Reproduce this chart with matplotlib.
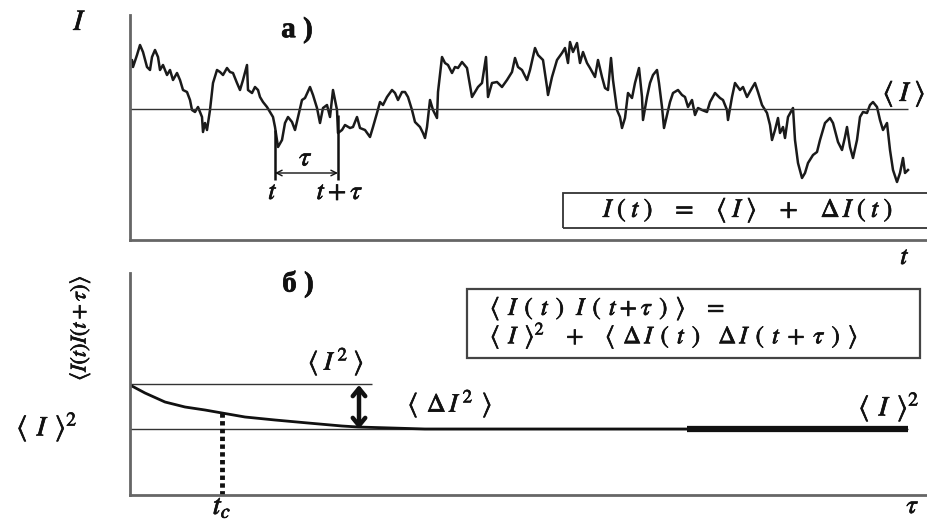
import numpy as np
import matplotlib
matplotlib.use("Agg")
import matplotlib.pyplot as plt
from matplotlib.patches import Rectangle
import matplotlib.patheffects as pe

plt.rcParams['mathtext.fontset'] = 'stix'
plt.rcParams['font.family'] = ['Liberation Serif', 'DejaVu Serif']

# a) fluctuating signal I(t)
t_vals = [0, 2, 3, 7, 10, 13, 17, 20, 22, 25,
          28, 30, 33, 37, 40, 43, 47, 50, 53, 57,
          60, 62, 65, 68, 72, 73, 75, 77, 80, 83,
          87, 90, 93, 97, 100, 103, 107, 110, 113, 117,
          118, 122, 125, 128, 130, 133, 137, 140, 143, 145,
          148, 152, 155, 158, 162, 165, 168, 172, 175, 180,
          183, 187, 190, 193, 197, 200, 203, 207, 208, 212,
          215, 220, 223, 227, 230, 235, 240, 243, 247, 250,
          253, 257, 262, 265, 268, 272, 275, 278, 282, 285,
          290, 293, 295, 297, 300, 303, 307, 308, 312, 315,
          318, 322, 325, 328, 332, 337, 342, 345, 348, 352,
          356, 358, 362, 367, 372, 377, 382, 385, 388, 392,
          397, 400, 405, 408, 413, 417, 418, 422, 427, 432,
          435, 438, 440, 443, 447, 450, 453, 457, 460, 465,
          468, 472, 475, 478, 481, 483, 487, 490, 492, 495,
          498, 502, 505, 509, 512, 513, 517, 520, 523, 527,
          529, 532, 534, 537, 540, 543, 548, 552, 555, 558,
          562, 565, 568, 572, 577, 580, 585, 590, 593, 597,
          598, 602, 605, 610, 613, 617, 622, 625, 628, 632,
          637, 640, 642, 645, 648, 650, 653, 655, 658, 663,
          665, 668, 672, 675, 678, 683, 687, 690, 695, 700,
          703, 708, 712, 715, 717, 720, 723, 727, 730, 733,
          737, 740, 743, 747, 750, 753, 757, 760, 763, 767,
          770, 773, 775, 778]
i_vals = [178, 180, 173, 185, 195, 188, 173, 170, 183, 190,
          183, 170, 175, 165, 170, 160, 167, 160, 150, 148,
          140, 130, 128, 133, 123, 108, 117, 110, 130, 157,
          170, 168, 165, 172, 168, 167, 157, 150, 160, 175,
          150, 147, 153, 150, 143, 138, 133, 128, 123, 113,
          93, 100, 117, 123, 118, 110, 123, 140, 142, 153,
          145, 132, 117, 132, 135, 123, 150, 130, 107, 110,
          115, 112, 113, 123, 112, 110, 103, 113, 127, 138,
          135, 143, 150, 147, 140, 148, 148, 143, 130, 118,
          113, 107, 102, 113, 140, 130, 122, 148, 183, 177,
          175, 167, 173, 172, 178, 172, 143, 148, 153, 157,
          183, 143, 157, 158, 153, 160, 168, 182, 173, 170,
          160, 170, 192, 185, 180, 153, 145, 163, 180, 187,
          192, 177, 198, 188, 197, 177, 188, 177, 172, 163,
          180, 163, 152, 150, 182, 160, 130, 123, 112, 122,
          147, 142, 157, 172, 143, 120, 143, 157, 165, 170,
          157, 133, 112, 125, 138, 147, 150, 145, 143, 133,
          140, 125, 132, 130, 128, 138, 147, 142, 140, 130,
          120, 143, 157, 150, 153, 143, 152, 157, 148, 135,
          127, 115, 100, 110, 122, 107, 113, 102, 123, 132,
          100, 77, 62, 67, 77, 85, 88, 100, 117, 122,
          117, 98, 90, 103, 113, 93, 82, 100, 123, 128,
          127, 135, 138, 133, 120, 110, 117, 90, 70, 58,
          67, 82, 67, 70]
i_mean = 131
t_mark = 145
t_tau = 208

# б) correlation function <I(t)I(t+tau)>
tau_vals = [0, 15, 35, 55, 75, 92, 115, 145, 178, 212, 228, 262, 295, 400, 557]
corr_vals = [110, 102, 93, 88, 85, 82, 78, 75, 72, 69, 68, 67, 66, 66, 66]
i_mean_sq = 66
i_sq_mean = 111
tau_c = 92

heavy = [pe.withStroke(linewidth=0.5, foreground='#111111')]
tx = dict(color='#111111', path_effects=heavy, ha='center', va='center')

fig = plt.figure(figsize=(9.27, 5.21), dpi=100)
ax1 = fig.add_axes([130 / 927, 1 - 240 / 521, 797 / 927, 225 / 521])
ax2 = fig.add_axes([130 / 927, 1 - 495 / 521, 797 / 927, 222 / 521])

for ax in (ax1, ax2):
    for s in ('top', 'right'):
        ax.spines[s].set_visible(False)
    for s in ('left', 'bottom'):
        ax.spines[s].set_color('#666666')
        ax.spines[s].set_linewidth(2)
    ax.set_xticks([])
    ax.set_yticks([])
    ax.set_xlim(0, 797)

# ---- panel a)
ax1.set_ylim(0, 225)
ax1.plot(t_vals, i_vals, color='#1a1a1a', lw=1.8)
ax1.hlines(i_mean, 0, 778, color='#333333', lw=1)
ax1.vlines(t_mark, 60, 110, color='#111111', lw=1.8)
ax1.vlines(t_tau, 60, 125, color='#111111', lw=1.8)
ax1.annotate('', xy=(t_mark, 67), xytext=(t_tau, 67),
             arrowprops=dict(arrowstyle='<->', lw=1, color='#111111', shrinkA=0, shrinkB=0))
ax1.text(176, 81, r'$\tau$', fontsize=20, **tx)
ax1.text(t_mark - 2, 47, r'$t$', fontsize=19, **tx)
ax1.text(t_tau + 2, 47, r'$t\:+\:\tau$', fontsize=19, **tx)
ax1.text(167, 210, 'а )', fontsize=21, fontweight='bold', **tx)
ax1.text(-50, 217, r'$I$', fontsize=21, clip_on=False, **tx)
ax1.text(774, 146, r'$\langle\; I\;\rangle$', fontsize=20, clip_on=False, **tx)
ax1.text(775, -18, r'$t$', fontsize=19, clip_on=False, **tx)
ax1.add_patch(Rectangle((433, 12), 400, 35, fill=False, ec='#333333', lw=1.3, clip_on=False))
ax1.text(618, 29.5,
         r'$I\;(\;t\;)\ \ \ =\ \ \ \langle\; I\;\rangle\ \ \ +\ \ \ \Delta\, I\;(\;t\;)$',
         fontsize=19, **tx)

# ---- panel б)
ax2.set_ylim(0, 222)
ax2.hlines(i_mean_sq, 0, 778, color='#333333', lw=1)
ax2.hlines(i_sq_mean, 0, 242, color='#333333', lw=1)
ax2.plot(tau_vals, corr_vals, color='#111111', lw=2)
ax2.hlines(i_mean_sq, tau_vals[-1], 778, color='#111111', lw=4.5)
ax2.vlines(tau_c, 0, 82, color='#111111', lw=3.5, linestyles=(0, (0.9, 0.7)))
ax2.annotate('', xy=(229, i_sq_mean - 1), xytext=(229, i_mean_sq),
             arrowprops=dict(arrowstyle='<->,head_length=0.55,head_width=0.45', lw=3.2,
                             color='#111111', shrinkA=0, shrinkB=0))
ax2.text(206, 133, r'$\langle\; I^{\,2}\;\rangle$', fontsize=19, **tx)
ax2.text(320, 91, r'$\langle\;\, \Delta\, I^{\,2}\;\,\rangle$', fontsize=19, **tx)
ax2.text(-83, 68, r'$\langle\;\, I\;\,\rangle^{2}$', fontsize=20, clip_on=False, **tx)
ax2.text(759, 88, r'$\langle\;\, I\;\,\rangle^{2}$', fontsize=20, **tx)
ax2.text(168, 211, 'б )', fontsize=21, fontweight='bold', clip_on=False, **tx)
ax2.add_patch(Rectangle((337, 137), 453, 69, fill=False, ec='#444444', lw=1.6))
ax2.text(360, 186,
         r'$\langle\;\, I\;\,(\;\,t\;\,)\ \ I\;\,(\;\,t\:+\:\tau\;\,)\;\,\rangle\ \ \ =$',
         fontsize=18, color='#111111', path_effects=heavy, ha='left', va='center')
ax2.text(360, 159,
         r'$\langle\;\, I\;\,\rangle^{2}\ \ \ +\ \ \ \langle\;\,\Delta\, I\;\,(\;\,t\;\,)'
         r'\ \ \ \Delta\, I\;\,(\;\,t\;+\;\tau\;\,)\;\,\rangle$',
         fontsize=18, color='#111111', path_effects=heavy, ha='left', va='center')
ax2.text(-50, 167, r'$\langle I(t)I(t+\tau)\rangle$', fontsize=16, rotation=90,
         clip_on=False, **tx)
ax2.text(783, -12, r'$\tau$', fontsize=19, clip_on=False, **tx)
ax2.text(tau_c, -25, r'$t_c$', fontsize=21, clip_on=False,
         color='#111111', path_effects=heavy, ha='center', va='bottom')

fig.savefig('out.png', dpi=100)
